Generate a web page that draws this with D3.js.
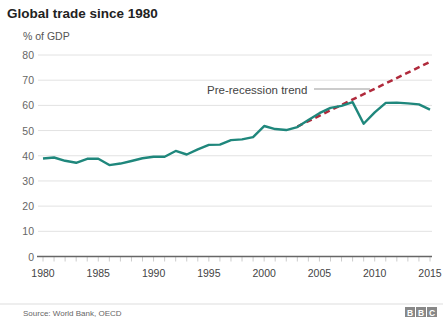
<!DOCTYPE html>
<html><head><meta charset="utf-8">
<script src="https://cdn.jsdelivr.net/npm/d3@7"></script>
<style>
body{margin:0;background:#fff;}
svg{font-family:"Liberation Sans",Arial,sans-serif;display:block;}
</style></head><body>
<svg id="c" width="443" height="320"></svg>
<script>
const years = [1980,1981,1982,1983,1984,1985,1986,1987,1988,1989,1990,1991,1992,1993,1994,1995,1996,1997,1998,1999,2000,2001,2002,2003,2004,2005,2006,2007,2008,2009,2010,2011,2012,2013,2014,2015];
const tradePct = [38.9,39.3,38.0,37.2,38.8,38.8,36.3,36.9,37.9,39.0,39.6,39.6,41.9,40.5,42.5,44.3,44.4,46.2,46.5,47.4,51.8,50.6,50.2,51.4,54.2,56.9,59.0,59.8,61.3,52.7,57.2,61.0,61.1,60.8,60.4,58.3];
const trendYears = [2003, 2015];
const trendPct = [51.6, 77.3];
const yTicks = [0,10,20,30,40,50,60,70,80];
const xTicks = [1980,1985,1990,1995,2000,2005,2010,2015];
const title = "Global trade since 1980";
const yLabel = "% of GDP";
const annotation = "Pre-recession trend";
const source = "Source: World Bank, OECD";

const svg = d3.select("#c");
const x = d3.scaleLinear().domain([1980,2015]).range([43,430]);
const y = d3.scaleLinear().domain([0,80]).range([256.5,55]);

svg.append("text").attr("x",7).attr("y",18).attr("font-size",13.5).attr("font-weight","bold").attr("fill","#222").text(title);
svg.append("text").attr("x",23).attr("y",40).attr("font-size",10.5).attr("fill","#555").text(yLabel);

// grid
svg.append("g").selectAll("line").data(yTicks.filter(d=>d>0)).join("line")
  .attr("x1",38).attr("x2",432).attr("y1",d=>y(d)).attr("y2",d=>y(d))
  .attr("stroke","#e2e2e2").attr("stroke-width",1);
svg.append("g").selectAll("text").data(yTicks).join("text")
  .attr("x",34).attr("y",d=>y(d)+4).attr("text-anchor","end")
  .attr("font-size",10.5).attr("fill","#666").text(d=>d);

// x axis ticks
svg.append("g").selectAll("line").data(d3.range(1980,2016)).join("line")
  .attr("x1",d=>x(d)).attr("x2",d=>x(d)).attr("y1",y(0)).attr("y2",y(0)+5)
  .attr("stroke","#ccc").attr("stroke-width",1);
svg.append("line").attr("x1",37).attr("x2",432).attr("y1",y(0)).attr("y2",y(0))
  .attr("stroke","#666").attr("stroke-width",1.6);
svg.append("g").selectAll("text").data(xTicks).join("text")
  .attr("x",d=>x(d)).attr("y",277).attr("text-anchor","middle")
  .attr("font-size",10.5).attr("fill","#444").text(d=>d);

// trend
const line = d3.line().x(d=>x(d[0])).y(d=>y(d[1]));
svg.append("path").datum(trendYears.map((d,i)=>[d,trendPct[i]]))
  .attr("d",line).attr("fill","none").attr("stroke","#b02a3c")
  .attr("stroke-width",2.5).attr("stroke-dasharray","6,4");

// data line
svg.append("path").datum(years.map((d,i)=>[d,tradePct[i]]))
  .attr("d",line).attr("fill","none").attr("stroke","#1f877c")
  .attr("stroke-width",2.4).attr("stroke-linejoin","round");

// annotation
svg.append("text").attr("x",207).attr("y",93.5).attr("font-size",11.5).attr("fill","#444").text(annotation);
svg.append("line").attr("x1",314).attr("x2",370).attr("y1",89).attr("y2",89)
  .attr("stroke","#999").attr("stroke-width",1);

// footer
svg.append("line").attr("x1",0).attr("x2",443).attr("y1",304).attr("y2",304).attr("stroke","#ddd");
svg.append("text").attr("x",23).attr("y",316).attr("font-size",8).attr("fill","#666").text(source);
const logo = svg.append("g");
["B","B","C"].forEach((l,i)=>{
  logo.append("rect").attr("x",405+i*11).attr("y",307).attr("width",10).attr("height",10).attr("fill","#888");
  logo.append("text").attr("x",410+i*11).attr("y",315.5).attr("text-anchor","middle")
    .attr("font-size",8.5).attr("font-weight","bold").attr("fill","#fff").text(l);
});
</script></body></html>
